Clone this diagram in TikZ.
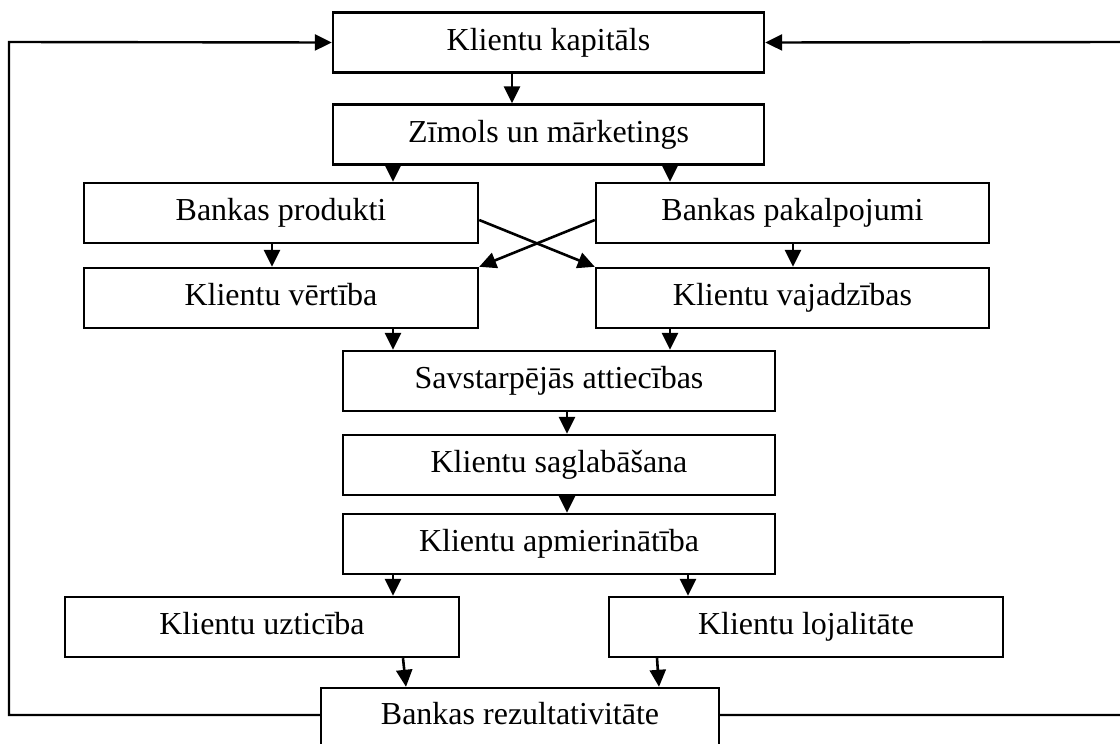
\documentclass[tikz,border=0pt]{standalone}
\usepackage{fontspec}
\setmainfont{Liberation Serif}
\usetikzlibrary{positioning,arrows.meta}

\begin{document}
\begin{tikzpicture}[x=0.5pt,y=-0.5pt,
  blok/.style={draw,line width=1.2pt,minimum height=30pt,inner sep=2pt,text height=11pt,text depth=3.5pt,font=\fontsize{16}{19}\selectfont},
  bulta/.style={line width=1.3pt,-{Triangle[length=8.5pt,width=8pt]}},
  linija/.style={line width=1.2pt}]
\useasboundingbox (0,0) rectangle (1120,744);
\node[blok,minimum width=215.5pt] (kap) at (548.5,42.5) {Klientu kapitāls};
\node[blok,minimum width=215.5pt] (zim) at (548.5,134.5) {Zīmols un mārketings};
\node[blok,minimum width=197pt] (prod) at (281,213) {Bankas produkti};
\node[blok,minimum width=196.5pt] (pak) at (792.5,213) {Bankas pakalpojumi};
\node[blok,minimum width=197pt] (vert) at (281,298) {Klientu vērtība};
\node[blok,minimum width=196.5pt] (vaj) at (792.5,298) {Klientu vajadzības};
\node[blok,minimum width=216pt] (sav) at (559,381) {Savstarpējās attiecības};
\node[blok,minimum width=216pt] (sag) at (559,465) {Klientu saglabāšana};
\node[blok,minimum width=216pt] (apm) at (559,544) {Klientu apmierinātība};
\node[blok,minimum width=197pt] (uzt) at (262,627) {Klientu uzticība};
\node[blok,minimum width=197pt] (loj) at (806,627) {Klientu lojalitāte};
\node[blok,minimum width=199pt,minimum height=29pt] (rez) at (520,717) {Bankas rezultativitāte};

\draw[bulta] (kap.south -| 512,0) -- (zim.north -| 512,0);
\draw[bulta] (zim.south -| 393,0) -- (prod.north -| 393,0);
\draw[bulta] (zim.south -| 670,0) -- (pak.north -| 670,0);
\draw[bulta] (prod.south -| 272,0) -- (vert.north -| 272,0);
\draw[bulta] (pak.south -| 793,0) -- (vaj.north -| 793,0);
\draw[bulta] (prod.east |- 0,220) -- (vaj.north west);
\draw[bulta] (pak.west |- 0,220) -- (vert.north east);
\draw[bulta] (vert.south -| 393,0) -- (sav.north -| 393,0);
\draw[bulta] (vaj.south -| 670,0) -- (sav.north -| 670,0);
\draw[bulta] (sav.south -| 567,0) -- (sag.north -| 567,0);
\draw[bulta] (sag.south -| 567,0) -- (apm.north -| 567,0);
\draw[bulta] (apm.south -| 393,0) -- (uzt.north -| 393,0);
\draw[bulta] (apm.south -| 688,0) -- (loj.north -| 688,0);
\draw[bulta] (uzt.south -| 403,0) -- (rez.north -| 406,0);
\draw[bulta] (loj.south -| 657,0) -- (rez.north -| 659,0);

\draw[linija,-{Triangle[length=8.5pt,width=8pt]}] (rez.west |- 0,715) -| (9,42) -- (kap.west);
\draw[linija,-{Triangle[length=8.5pt,width=8pt]}] (rez.east |- 0,715) -| (1126,42) -- (kap.east);
\end{tikzpicture}
\end{document}
